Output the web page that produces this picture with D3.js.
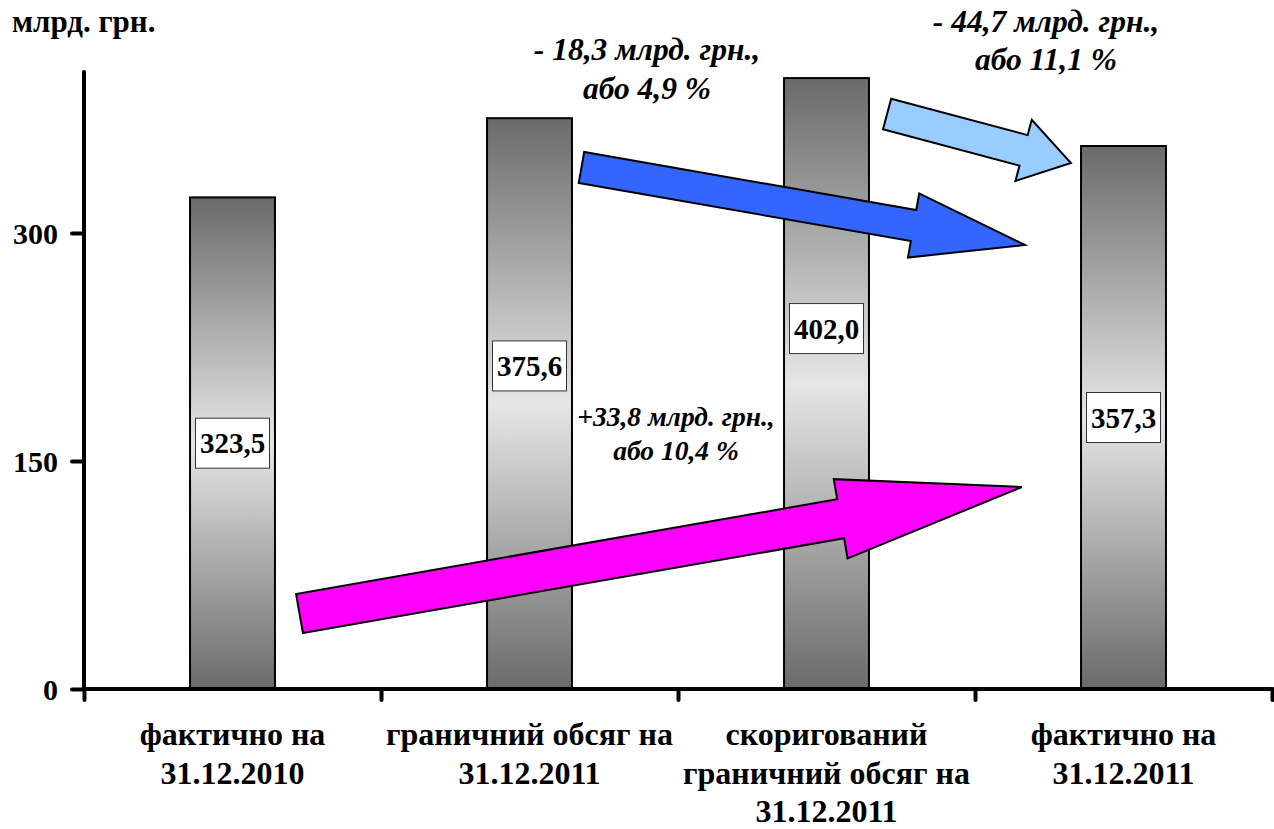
<!DOCTYPE html>
<html>
<head>
<meta charset="utf-8">
<script src="https://cdn.jsdelivr.net/npm/d3@7"></script>
<style>
  html, body { margin: 0; padding: 0; background: #ffffff; }
  svg { display: block; }
</style>
</head>
<body>
<svg id="chart" width="1274" height="829"></svg>
<script>
// ---- data ----
const categories = [
  ["фактично на", "31.12.2010"],
  ["граничний обсяг на", "31.12.2011"],
  ["скоригований", "граничний обсяг на", "31.12.2011"],
  ["фактично на", "31.12.2011"]
];
const values = [323.5, 375.6, 402.0, 357.3];
const valueLabels = ["323,5", "375,6", "402,0", "357,3"];
const yTicks = [0, 150, 300];
const unitLabel = "млрд. грн.";

// change annotations (text + arrow from/to, in category-position / value units)
const changeTexts = [
  ["- 18,3 млрд. грн.,", "або 4,9 %"],
  ["- 44,7 млрд. грн.,", "або 11,1 %"],
  ["+33,8 млрд. грн.,", "або 10,4 %"]
];
const arrowFrom = [[1.675, 343.2], [2.704, 378.4], [0.7256, 49.7]];
const arrowTo   = [[3.168, 292.2], [3.323, 346.1], [3.158, 132.9]];

// ---- layout / style ----
const FONT = "Liberation Serif";
const plot = { left: 84, right: 1272, top: 72, bottom: 689 };
const yMax = 406;
const labelFrac = [0.5, 0.566, 0.59, 0.5];
const arrowColors = ["#3366ff", "#99ccff", "#ff00ff"];
const arrowShaft = [31.4, 31.6, 39.6];
const arrowHeadW = [65, 63.3, 80.4];
const arrowHeadL = [113, 49, 184];
const textPos = [[647, 60], [1046, 32], [676, 426]];
const textSize = [31.5, 31.5, 27.5];
const textLead = [39, 38, 34];

const svg = d3.select("#chart");

const x = d3.scaleBand().domain(d3.range(categories.length))
  .range([plot.left, plot.right]).paddingInner(0.714).paddingOuter(0.357);
const xc = d3.scaleLinear().domain([0, categories.length]).range([plot.left, plot.right]);
const y = d3.scaleLinear().domain([0, yMax]).range([plot.bottom, plot.top]);

function font(sel, size, italic) {
  sel.attr("font-family", FONT).attr("font-weight", "bold")
    .attr("font-size", size).attr("fill", "#000");
  if (italic) sel.attr("font-style", "italic");
  return sel;
}

// gradient
const defs = svg.append("defs");
const grad = defs.append("linearGradient").attr("id", "barGrad")
  .attr("x1", 0).attr("y1", 0).attr("x2", 0).attr("y2", 1);
grad.append("stop").attr("offset", "0%").attr("stop-color", "#6a6a6a");
grad.append("stop").attr("offset", "50%").attr("stop-color", "#e6e6e6");
grad.append("stop").attr("offset", "100%").attr("stop-color", "#6a6a6a");

// bars
svg.append("g").selectAll("rect").data(values).join("rect")
  .attr("x", (d, i) => x(i))
  .attr("y", d => y(d))
  .attr("width", x.bandwidth())
  .attr("height", d => y(0) - y(d))
  .attr("fill", "url(#barGrad)")
  .attr("stroke", "#000")
  .attr("stroke-width", 2);

// arrows
function arrowPath(i) {
  const x0 = xc(arrowFrom[i][0]), y0 = y(arrowFrom[i][1]);
  const x1 = xc(arrowTo[i][0]), y1 = y(arrowTo[i][1]);
  const dx = x1 - x0, dy = y1 - y0, L = Math.hypot(dx, dy);
  const ux = dx / L, uy = dy / L, nx = -uy, ny = ux;
  const sw = arrowShaft[i] / 2, hw = arrowHeadW[i] / 2, hl = arrowHeadL[i];
  const bx = x1 - ux * hl, by = y1 - uy * hl;
  const pts = [
    [x0 + nx * sw, y0 + ny * sw],
    [bx + nx * sw, by + ny * sw],
    [bx + nx * hw, by + ny * hw],
    [x1, y1],
    [bx - nx * hw, by - ny * hw],
    [bx - nx * sw, by - ny * sw],
    [x0 - nx * sw, y0 - ny * sw]
  ];
  return d3.line()(pts) + "Z";
}

// axes
const yAxis = svg.append("g").attr("transform", `translate(${plot.left},0)`)
  .call(d3.axisLeft(y).tickValues(yTicks).tickSize(12).tickPadding(14).tickFormat(d3.format("d")));
const xAxis = svg.append("g").attr("transform", `translate(0,${plot.bottom})`)
  .call(d3.axisBottom(xc).tickValues(d3.range(categories.length + 1)).tickSize(11).tickFormat(""));
[yAxis, xAxis].forEach(g => {
  g.select(".domain").remove();
  g.attr("font-family", FONT).attr("font-size", 30);
  g.selectAll(".tick line").attr("stroke", "#000").attr("stroke-width", 4).attr("stroke-linecap", "round");
});
font(yAxis.selectAll(".tick text"), 30).attr("dy", "0.34em");
svg.append("line").attr("x1", plot.left).attr("x2", plot.left)
  .attr("y1", plot.top).attr("y2", plot.bottom)
  .attr("stroke", "#000").attr("stroke-width", 4).attr("stroke-linecap", "round");
svg.append("line").attr("x1", plot.left).attr("x2", plot.right)
  .attr("y1", plot.bottom).attr("y2", plot.bottom)
  .attr("stroke", "#000").attr("stroke-width", 4).attr("stroke-linecap", "round");

// arrows drawn over bars
svg.append("g").selectAll("path").data(arrowColors).join("path")
  .attr("d", (d, i) => arrowPath(i))
  .attr("fill", d => d)
  .attr("stroke", "#000")
  .attr("stroke-width", 2)
  .attr("stroke-linejoin", "miter");

// value labels
const lab = svg.append("g").selectAll("g").data(values).join("g")
  .attr("transform", (d, i) => `translate(${x(i) + x.bandwidth() / 2},${y(d * labelFrac[i])})`);
lab.append("rect").attr("x", -37).attr("y", -25).attr("width", 74).attr("height", 50)
  .attr("fill", "#fff").attr("stroke", "#333").attr("stroke-width", 1);
font(lab.append("text"), 29).attr("text-anchor", "middle").attr("dy", "0.35em")
  .text((d, i) => valueLabels[i]);

// category labels
font(svg.append("g").selectAll("text").data(categories).join("text"), 32)
  .attr("text-anchor", "middle")
  .attr("x", (d, i) => x(i) + x.bandwidth() / 2)
  .attr("y", 745)
  .selectAll("tspan").data(d => d).join("tspan")
  .attr("x", function () { return this.parentNode.getAttribute("x"); })
  .attr("dy", (d, j) => j === 0 ? 0 : 38.5)
  .text(d => d);

// unit label
font(svg.append("text"), 31).attr("x", 12).attr("y", 32).text(unitLabel);

// change annotations
font(svg.append("g").selectAll("text").data(changeTexts).join("text"), 31, true)
  .attr("text-anchor", "middle")
  .attr("x", (d, i) => textPos[i][0])
  .attr("y", (d, i) => textPos[i][1])
  .attr("font-size", (d, i) => textSize[i])
  .each(function (d, i) {
    d3.select(this).selectAll("tspan").data(d).join("tspan")
      .attr("x", textPos[i][0])
      .attr("dy", (t, j) => j === 0 ? 0 : textLead[i])
      .text(t => t);
  });
</script>
</body>
</html>
